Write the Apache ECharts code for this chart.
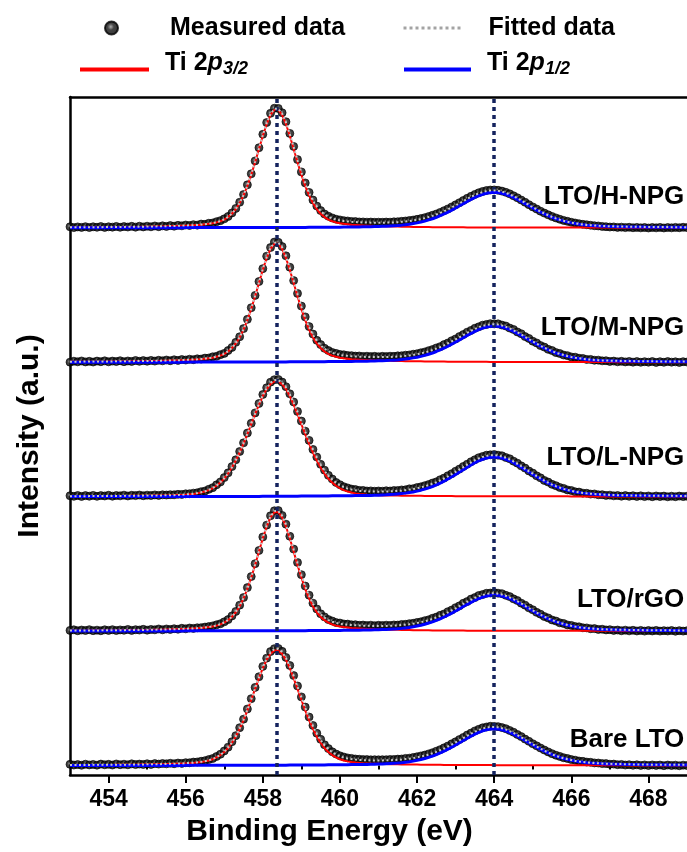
<!DOCTYPE html>
<html>
<head>
<meta charset="utf-8">
<title>Ti 2p XPS</title>
<script src="https://cdn.jsdelivr.net/npm/echarts@6/dist/echarts.min.js"></script>
<style>
  html, body { margin: 0; padding: 0; background: #ffffff; }
  #chart { width: 687px; height: 852px; }
</style>
</head>
<body>
<div id="chart"></div>
<script>
// Binding-energy sampling of every spectrum: 453.0 ... 469.0 eV, 0.1 eV apart
const E_START = 453.0;
const E_STEP = 0.1;

const samples = ['LTO/H-NPG', 'LTO/M-NPG', 'LTO/L-NPG', 'LTO/rGO', 'Bare LTO'];
// vertical stacking offset of each spectrum (intensity units)
const offsets = [453.6, 340.2, 226.8, 113.4, 0];
// height of the sample caption above its baseline (intensity units)
const labelLift = [26, 29, 33, 26, 22];
// Ti 2p3/2 and Ti 2p1/2 peak positions (eV)
const peakLines = [458.35, 464.0];
const majorTicks = [454, 456, 458, 460, 462, 464, 466, 468];
const minorTicks = [455, 457, 459, 461, 463, 465, 467];

// ---------- LTO/H-NPG ----------
const measH = [
  0.9,0.2,0.8,0.4,1.0,0.3,0.9,0.5,1.1,0.4,
  0.9,0.6,1.2,0.5,1.1,0.7,1.3,0.6,1.4,0.8,
  1.4,0.9,1.6,1.0,1.7,1.2,1.9,1.4,2.1,1.7,
  2.4,2.0,2.7,2.3,3.2,3.0,3.9,4.1,5.2,6.1,
  7.6,9.6,12.6,16.4,21.6,28.1,36.3,45.6,56.5,67.6,
  78.9,88.8,96.6,100.9,100.8,97.1,89.5,79.7,68.7,57.6,
  47.2,37.9,29.9,23.5,18.4,14.6,11.7,9.8,8.4,7.3,
  6.7,6.1,5.8,5.4,5.3,5.0,5.0,4.8,4.9,4.7,
  4.8,4.7,4.9,4.8,5.1,5.2,5.5,5.8,6.2,6.6,
  7.2,7.8,8.6,9.5,10.6,11.7,13.0,14.5,16.0,17.7,
  19.4,21.2,23.1,24.9,26.6,28.2,29.6,30.7,31.5,31.9,
  32.0,31.7,31.0,30.0,28.7,27.1,25.4,23.5,21.6,19.6,
  17.7,15.9,14.1,12.5,11.0,9.6,8.4,7.3,6.3,5.5,
  4.7,4.1,3.5,3.0,2.6,2.2,1.8,1.6,1.2,1.0,
  0.7,0.8,0.4,0.6,0.2,0.5,0.1,0.4,0.0,0.3,
  -0.1,0.3,0.0,0.4,-0.1,0.3,0.0,0.4,0.1,0.5,
  0.2
];
const fitH = [
  0.5,0.5,0.5,0.5,0.6,0.6,0.6,0.6,0.6,0.7,
  0.7,0.7,0.8,0.8,0.8,0.9,0.9,1.0,1.0,1.0,
  1.1,1.1,1.2,1.3,1.3,1.4,1.5,1.6,1.7,1.9,
  2.0,2.2,2.3,2.5,2.8,3.1,3.5,4.0,4.8,5.8,
  7.2,9.3,12.1,16.0,21.1,27.6,35.7,45.1,55.8,67.1,
  78.3,88.4,96.1,100.4,100.5,96.5,89.0,79.1,68.2,57.1,
  46.8,37.4,29.5,23.0,18.0,14.1,11.3,9.3,7.9,6.9,
  6.2,5.7,5.4,5.1,4.9,4.7,4.6,4.5,4.4,4.4,
  4.4,4.4,4.4,4.5,4.6,4.8,5.1,5.4,5.7,6.2,
  6.7,7.4,8.2,9.1,10.1,11.3,12.6,14.0,15.6,17.3,
  19.0,20.8,22.6,24.4,26.2,27.7,29.1,30.2,31.0,31.5,
  31.6,31.3,30.6,29.5,28.2,26.7,24.9,23.1,21.1,19.2,
  17.3,15.5,13.7,12.1,10.6,9.2,8.0,6.9,6.0,5.1,
  4.4,3.8,3.3,2.9,2.5,2.3,2.0,1.8,1.6,1.5,
  1.4,1.3,1.2,1.1,1.1,1.0,1.0,0.9,0.9,0.8,
  0.8,0.8,0.7,0.7,0.7,0.7,0.6,0.6,0.6,0.6,
  0.6
];
const p32H = [
  0.4,0.4,0.4,0.4,0.4,0.5,0.5,0.5,0.5,0.5,
  0.6,0.6,0.6,0.6,0.7,0.7,0.8,0.8,0.8,0.9,
  0.9,1.0,1.1,1.1,1.2,1.3,1.4,1.5,1.6,1.7,
  1.8,2.0,2.2,2.4,2.6,3.0,3.4,3.9,4.6,5.6,
  7.0,9.1,11.9,15.8,20.9,27.4,35.4,44.8,55.4,66.6,
  77.7,87.6,95.3,99.5,99.5,95.3,87.6,77.7,66.6,55.4,
  44.8,35.4,27.4,20.9,15.8,11.9,9.1,7.0,5.6,4.6,
  3.9,3.4,3.0,2.6,2.4,2.2,2.0,1.8,1.7,1.6,
  1.5,1.4,1.3,1.2,1.1,1.1,1.0,0.9,0.9,0.8,
  0.8,0.8,0.7,0.7,0.6,0.6,0.6,0.6,0.5,0.5,
  0.5,0.5,0.5,0.4,0.4,0.4,0.4,0.4,0.4,0.3,
  0.3,0.3,0.3,0.3,0.3,0.3,0.3,0.3,0.3,0.3,
  0.2,0.2,0.2,0.2,0.2,0.2,0.2,0.2,0.2,0.2,
  0.2,0.2,0.2,0.2,0.2,0.2,0.2,0.2,0.2,0.2,
  0.2,0.2,0.1,0.1,0.1,0.1,0.1,0.1,0.1,0.1,
  0.1,0.1,0.1,0.1,0.1,0.1,0.1,0.1,0.1,0.1,
  0.1
];
const p12H = [
  0.1,0.1,0.1,0.1,0.1,0.1,0.1,0.1,0.1,0.1,
  0.1,0.1,0.1,0.1,0.1,0.1,0.1,0.1,0.1,0.1,
  0.1,0.1,0.1,0.1,0.1,0.1,0.1,0.1,0.1,0.1,
  0.2,0.2,0.2,0.2,0.2,0.2,0.2,0.2,0.2,0.2,
  0.2,0.2,0.2,0.2,0.2,0.2,0.2,0.2,0.2,0.2,
  0.3,0.3,0.3,0.3,0.3,0.3,0.3,0.4,0.4,0.4,
  0.4,0.4,0.5,0.5,0.5,0.5,0.5,0.6,0.6,0.6,
  0.6,0.7,0.7,0.7,0.8,0.8,0.9,0.9,1.0,1.1,
  1.2,1.3,1.4,1.6,1.8,2.0,2.3,2.7,3.1,3.6,
  4.2,4.9,5.7,6.7,7.7,8.9,10.3,11.7,13.3,15.0,
  16.8,18.6,20.4,22.3,24.0,25.7,27.1,28.3,29.2,29.8,
  30.0,29.8,29.2,28.3,27.1,25.7,24.0,22.3,20.4,18.6,
  16.8,15.0,13.3,11.7,10.3,8.9,7.7,6.7,5.7,4.9,
  4.2,3.6,3.1,2.7,2.3,2.0,1.8,1.6,1.4,1.3,
  1.2,1.1,1.0,0.9,0.9,0.8,0.8,0.7,0.7,0.7,
  0.6,0.6,0.6,0.6,0.5,0.5,0.5,0.5,0.5,0.4,
  0.4
];

// ---------- LTO/M-NPG ----------
const measM = [
  0.1,0.9,0.4,1.1,0.3,0.8,0.2,1.0,0.5,1.2,
  0.4,1.0,0.6,1.3,0.5,1.1,0.7,1.5,0.8,1.4,
  0.9,1.6,1.0,1.7,1.2,1.9,1.3,2.1,1.6,2.3,
  1.9,2.6,2.2,2.9,2.7,3.5,3.6,4.6,5.0,6.4,
  7.5,9.9,12.5,16.8,21.5,28.4,36.2,46.0,56.4,68.1,
  79.0,89.5,96.8,101.4,101.2,97.6,89.8,80.2,68.9,58.1,
  47.4,38.3,30.1,23.8,18.5,14.9,11.8,9.9,8.3,7.5,
  6.6,6.3,5.7,5.6,5.2,5.3,4.9,5.1,4.8,5.0,
  4.7,5.0,4.8,5.1,5.0,5.4,5.5,6.0,6.2,6.8,
  7.2,8.0,8.7,9.8,10.7,12.1,13.2,14.9,16.3,18.2,
  19.7,21.7,23.4,25.4,26.9,28.7,29.9,31.3,31.9,32.6,
  32.4,32.4,31.4,30.6,28.9,27.7,25.6,24.1,21.7,20.1,
  17.8,16.3,14.1,12.8,10.9,9.9,8.2,7.4,6.1,5.6,
  4.5,4.3,3.4,3.2,2.4,2.4,1.7,1.8,1.2,1.3,
  0.7,1.0,0.4,0.8,0.3,0.7,0.1,0.6,0.0,0.5,
  0.1,0.6,-0.1,0.5,0.0,0.6,0.1,0.4,-0.1,0.5,
  0.2
];
const fitM = [
  0.5,0.5,0.5,0.5,0.6,0.6,0.6,0.6,0.6,0.7,
  0.7,0.7,0.8,0.8,0.8,0.9,0.9,1.0,1.0,1.0,
  1.1,1.1,1.2,1.3,1.3,1.4,1.5,1.6,1.7,1.9,
  2.0,2.2,2.3,2.5,2.8,3.1,3.5,4.0,4.8,5.8,
  7.2,9.3,12.2,16.1,21.2,27.7,35.9,45.3,56.1,67.4,
  78.7,88.8,96.6,100.9,101.0,97.0,89.4,79.5,68.5,57.4,
  47.0,37.6,29.6,23.1,18.1,14.2,11.4,9.3,7.9,6.9,
  6.2,5.7,5.4,5.1,4.9,4.7,4.6,4.5,4.4,4.4,
  4.4,4.4,4.4,4.5,4.6,4.8,5.1,5.4,5.8,6.2,
  6.8,7.5,8.3,9.2,10.3,11.5,12.8,14.2,15.9,17.6,
  19.3,21.1,23.0,24.8,26.6,28.1,29.6,30.7,31.5,32.0,
  32.1,31.8,31.1,30.0,28.6,27.1,25.3,23.5,21.4,19.5,
  17.6,15.8,13.9,12.3,10.8,9.4,8.1,7.0,6.1,5.2,
  4.5,3.9,3.4,2.9,2.5,2.3,2.0,1.8,1.6,1.5,
  1.4,1.3,1.2,1.1,1.1,1.0,1.0,0.9,0.9,0.8,
  0.8,0.8,0.7,0.7,0.7,0.7,0.6,0.6,0.6,0.6,
  0.6
];
const p32M = [
  0.4,0.4,0.4,0.4,0.4,0.5,0.5,0.5,0.5,0.5,
  0.6,0.6,0.6,0.6,0.7,0.7,0.8,0.8,0.8,0.9,
  0.9,1.0,1.1,1.1,1.2,1.3,1.4,1.5,1.6,1.7,
  1.8,2.0,2.2,2.4,2.6,3.0,3.4,3.9,4.6,5.6,
  7.0,9.1,12.0,15.9,21.0,27.5,35.6,45.1,55.7,66.9,
  78.1,88.1,95.7,100.0,100.0,95.7,88.1,78.1,66.9,55.7,
  45.1,35.6,27.5,21.0,15.9,12.0,9.1,7.0,5.6,4.6,
  3.9,3.4,3.0,2.6,2.4,2.2,2.0,1.8,1.7,1.6,
  1.5,1.4,1.3,1.2,1.1,1.1,1.0,0.9,0.9,0.8,
  0.8,0.8,0.7,0.7,0.6,0.6,0.6,0.6,0.5,0.5,
  0.5,0.5,0.5,0.4,0.4,0.4,0.4,0.4,0.4,0.3,
  0.3,0.3,0.3,0.3,0.3,0.3,0.3,0.3,0.3,0.3,
  0.2,0.2,0.2,0.2,0.2,0.2,0.2,0.2,0.2,0.2,
  0.2,0.2,0.2,0.2,0.2,0.2,0.2,0.2,0.2,0.2,
  0.2,0.2,0.1,0.1,0.1,0.1,0.1,0.1,0.1,0.1,
  0.1,0.1,0.1,0.1,0.1,0.1,0.1,0.1,0.1,0.1,
  0.1
];
const p12M = [
  0.1,0.1,0.1,0.1,0.1,0.1,0.1,0.1,0.1,0.1,
  0.1,0.1,0.1,0.1,0.1,0.1,0.1,0.1,0.1,0.1,
  0.1,0.1,0.1,0.1,0.1,0.1,0.1,0.1,0.1,0.1,
  0.2,0.2,0.2,0.2,0.2,0.2,0.2,0.2,0.2,0.2,
  0.2,0.2,0.2,0.2,0.2,0.2,0.2,0.2,0.2,0.2,
  0.3,0.3,0.3,0.3,0.3,0.3,0.3,0.4,0.4,0.4,
  0.4,0.4,0.5,0.5,0.5,0.5,0.5,0.6,0.6,0.6,
  0.6,0.7,0.7,0.7,0.8,0.8,0.9,0.9,1.0,1.1,
  1.2,1.3,1.4,1.6,1.8,2.0,2.3,2.7,3.2,3.7,
  4.3,5.0,5.8,6.8,7.8,9.1,10.5,11.9,13.5,15.3,
  17.1,18.9,20.7,22.7,24.4,26.1,27.6,28.8,29.7,30.3,
  30.5,30.3,29.7,28.8,27.6,26.1,24.4,22.7,20.7,18.9,
  17.1,15.3,13.5,11.9,10.5,9.1,7.8,6.8,5.8,5.0,
  4.3,3.7,3.2,2.7,2.3,2.0,1.8,1.6,1.4,1.3,
  1.2,1.1,1.0,0.9,0.9,0.8,0.8,0.7,0.7,0.7,
  0.6,0.6,0.6,0.6,0.5,0.5,0.5,0.5,0.5,0.4,
  0.4
];

// ---------- LTO/L-NPG ----------
const measL = [
  0.8,0.3,1.0,0.2,0.9,0.4,1.1,0.3,0.9,0.6,
  1.2,0.4,1.0,0.7,1.3,0.6,1.2,0.9,1.4,0.8,
  1.3,1.0,1.5,1.1,1.6,1.4,1.7,1.6,2.0,1.9,
  2.4,2.5,3.0,3.3,4.2,4.8,6.2,7.6,10.0,12.4,
  16.1,20.1,25.4,31.1,38.1,45.4,53.7,61.9,70.7,78.6,
  86.2,91.9,96.6,98.7,98.9,96.7,92.8,86.8,79.9,71.9,
  63.8,55.3,47.5,39.9,33.4,27.3,22.4,18.0,14.9,12.0,
  10.1,8.4,7.4,6.4,6.0,5.3,5.3,4.8,4.9,4.6,
  4.8,4.6,5.0,4.8,5.2,5.2,5.7,5.8,6.6,6.8,
  7.7,8.3,9.3,10.2,11.5,12.5,14.3,15.7,17.7,19.4,
  21.5,23.3,25.5,27.4,29.5,31.2,32.9,33.9,35.0,35.3,
  35.6,35.0,34.5,33.1,32.0,30.0,28.3,26.0,24.1,21.7,
  19.9,17.6,15.9,13.7,12.3,10.4,9.3,7.8,7.0,5.7,
  5.2,4.1,3.9,3.0,2.9,2.2,2.3,1.6,1.7,1.1,
  1.3,0.7,1.0,0.4,0.9,0.3,0.8,0.2,0.7,0.1,
  0.6,0.0,0.6,0.1,0.5,-0.1,0.4,0.0,0.5,0.1,
  0.4
];
const fitL = [
  0.4,0.4,0.4,0.4,0.4,0.5,0.5,0.5,0.5,0.5,
  0.6,0.6,0.6,0.6,0.7,0.7,0.8,0.8,0.8,0.9,
  0.9,0.9,1.0,1.0,1.1,1.2,1.2,1.3,1.5,1.6,
  1.9,2.2,2.5,3.0,3.7,4.5,5.7,7.3,9.4,12.1,
  15.5,19.7,24.8,30.7,37.5,45.0,53.1,61.5,70.1,78.3,
  85.6,91.6,96.0,98.3,98.4,96.3,92.2,86.4,79.3,71.5,
  63.2,54.9,46.9,39.5,32.8,26.9,21.8,17.6,14.3,11.6,
  9.5,8.0,6.8,6.0,5.4,4.9,4.7,4.4,4.3,4.3,
  4.2,4.3,4.4,4.5,4.6,4.9,5.1,5.5,6.0,6.4,
  7.1,7.9,8.7,9.8,10.9,12.1,13.7,15.3,17.1,19.0,
  20.9,22.9,24.9,27.0,28.9,30.8,32.3,33.5,34.4,35.0,
  35.0,34.7,33.9,32.8,31.4,29.7,27.7,25.7,23.5,21.4,
  19.4,17.3,15.4,13.5,11.8,10.2,8.9,7.7,6.6,5.7,
  4.9,4.2,3.7,3.2,2.8,2.5,2.2,2.0,1.8,1.7,
  1.5,1.4,1.3,1.2,1.2,1.1,1.1,1.0,1.0,1.0,
  0.8,0.8,0.8,0.8,0.7,0.7,0.7,0.7,0.6,0.6,
  0.6
];
const p32L = [
  0.3,0.3,0.3,0.3,0.3,0.4,0.4,0.4,0.4,0.4,
  0.5,0.5,0.5,0.5,0.6,0.6,0.7,0.7,0.7,0.8,
  0.8,0.8,0.9,0.9,1.0,1.1,1.1,1.2,1.4,1.5,
  1.7,2.0,2.3,2.8,3.5,4.3,5.5,7.1,9.2,11.9,
  15.3,19.5,24.6,30.5,37.3,44.8,52.8,61.2,69.7,77.7,
  84.9,90.8,95.0,97.2,97.2,95.0,90.8,84.9,77.7,69.7,
  61.2,52.8,44.8,37.3,30.5,24.6,19.5,15.3,11.9,9.2,
  7.1,5.5,4.3,3.5,2.8,2.3,2.0,1.7,1.5,1.4,
  1.2,1.1,1.1,1.0,0.9,0.9,0.8,0.8,0.8,0.7,
  0.7,0.7,0.6,0.6,0.6,0.5,0.5,0.5,0.5,0.5,
  0.4,0.4,0.4,0.4,0.4,0.4,0.4,0.4,0.4,0.4,
  0.3,0.3,0.3,0.3,0.3,0.3,0.3,0.3,0.3,0.3,
  0.3,0.3,0.3,0.3,0.3,0.3,0.3,0.3,0.3,0.3,
  0.2,0.2,0.2,0.2,0.2,0.2,0.2,0.2,0.2,0.2,
  0.2,0.2,0.2,0.2,0.2,0.2,0.2,0.2,0.2,0.2,
  0.1,0.1,0.1,0.1,0.1,0.1,0.1,0.1,0.1,0.1,
  0.1
];
const p12L = [
  0.1,0.1,0.1,0.1,0.1,0.1,0.1,0.1,0.1,0.1,
  0.1,0.1,0.1,0.1,0.1,0.1,0.1,0.1,0.1,0.1,
  0.1,0.1,0.1,0.1,0.1,0.1,0.1,0.1,0.1,0.1,
  0.2,0.2,0.2,0.2,0.2,0.2,0.2,0.2,0.2,0.2,
  0.2,0.2,0.2,0.2,0.2,0.2,0.2,0.2,0.2,0.2,
  0.3,0.3,0.3,0.3,0.3,0.4,0.4,0.4,0.4,0.4,
  0.5,0.5,0.5,0.5,0.6,0.6,0.6,0.6,0.7,0.7,
  0.7,0.8,0.8,0.8,0.9,0.9,1.0,1.0,1.1,1.2,
  1.3,1.5,1.6,1.8,2.0,2.3,2.6,3.0,3.5,4.0,
  4.7,5.5,6.4,7.5,8.6,9.9,11.5,13.1,14.9,16.8,
  18.8,20.8,22.8,24.9,26.8,28.7,30.3,31.6,32.6,33.3,
  33.5,33.3,32.6,31.6,30.3,28.7,26.8,24.9,22.8,20.8,
  18.8,16.8,14.9,13.1,11.5,9.9,8.6,7.5,6.4,5.5,
  4.7,4.0,3.5,3.0,2.6,2.3,2.0,1.8,1.6,1.5,
  1.3,1.2,1.1,1.0,1.0,0.9,0.9,0.8,0.8,0.8,
  0.7,0.7,0.7,0.7,0.6,0.6,0.6,0.6,0.5,0.5,
  0.5
];

// ---------- LTO/rGO ----------
const measR = [
  0.6,1.1,0.3,0.9,0.5,1.2,0.4,0.8,0.3,1.1,
  0.6,1.2,0.5,1.0,0.7,1.4,0.6,1.2,0.9,1.5,
  0.8,1.4,1.1,1.8,1.1,1.8,1.4,2.0,1.6,2.4,
  1.9,2.6,2.3,2.8,2.9,3.4,3.8,4.4,5.3,6.2,
  7.8,9.7,12.8,16.6,21.9,28.3,36.7,46.0,56.9,68.0,
  79.4,89.4,97.3,101.5,101.7,97.6,90.2,80.0,69.2,57.9,
  47.6,38.0,30.3,23.6,18.7,14.6,12.0,9.7,8.5,7.2,
  6.8,6.0,5.9,5.3,5.4,4.9,5.1,4.7,5.0,4.6,
  4.9,4.7,5.0,4.8,5.2,5.1,5.6,5.7,6.3,6.6,
  7.3,7.8,8.8,9.5,10.8,11.8,13.3,14.5,16.4,17.8,
  19.8,21.3,23.5,24.9,27.0,28.3,30.0,30.8,31.9,32.1,
  32.5,32.0,31.6,30.2,29.1,27.2,25.8,23.6,21.9,19.6,
  18.0,15.8,14.3,12.3,11.1,9.4,8.5,7.0,6.4,5.2,
  4.8,3.8,3.6,2.8,2.7,2.0,2.1,1.4,1.6,1.0,
  1.2,0.6,0.9,0.3,0.8,0.2,0.7,0.1,0.6,0.0,
  0.5,0.1,0.6,0.0,0.4,0.1,0.5,-0.1,0.4,0.0,
  0.3
];
const fitR = [
  0.5,0.5,0.5,0.5,0.6,0.6,0.6,0.6,0.6,0.7,
  0.7,0.7,0.8,0.8,0.8,0.9,0.9,1.0,1.0,1.0,
  1.1,1.1,1.2,1.3,1.3,1.4,1.5,1.6,1.7,1.9,
  2.0,2.2,2.3,2.5,2.8,3.1,3.5,4.0,4.8,5.8,
  7.3,9.4,12.2,16.1,21.3,27.8,36.0,45.5,56.2,67.6,
  78.9,89.1,96.8,101.2,101.3,97.2,89.7,79.7,68.7,57.5,
  47.1,37.7,29.7,23.1,18.1,14.2,11.4,9.3,7.9,6.9,
  6.2,5.7,5.4,5.1,4.9,4.7,4.6,4.5,4.4,4.4,
  4.4,4.4,4.4,4.5,4.6,4.8,5.1,5.4,5.7,6.2,
  6.8,7.5,8.3,9.2,10.3,11.4,12.7,14.2,15.8,17.5,
  19.2,21.0,22.9,24.7,26.4,28.0,29.4,30.5,31.3,31.8,
  31.9,31.6,30.9,29.8,28.5,26.9,25.2,23.3,21.4,19.4,
  17.5,15.7,13.9,12.2,10.7,9.3,8.1,7.0,6.0,5.2,
  4.4,3.8,3.3,2.9,2.5,2.3,2.0,1.8,1.6,1.5,
  1.4,1.3,1.2,1.1,1.1,1.0,1.0,0.9,0.9,0.8,
  0.8,0.8,0.7,0.7,0.7,0.7,0.6,0.6,0.6,0.6,
  0.6
];
const p32R = [
  0.4,0.4,0.4,0.4,0.4,0.5,0.5,0.5,0.5,0.5,
  0.6,0.6,0.6,0.6,0.7,0.7,0.8,0.8,0.8,0.9,
  0.9,1.0,1.1,1.1,1.2,1.3,1.4,1.5,1.6,1.7,
  1.8,2.0,2.2,2.4,2.6,3.0,3.4,3.9,4.6,5.6,
  7.1,9.2,12.0,15.9,21.0,27.6,35.7,45.2,55.8,67.1,
  78.3,88.3,96.0,100.3,100.3,96.0,88.3,78.3,67.1,55.8,
  45.2,35.7,27.6,21.0,15.9,12.0,9.2,7.1,5.6,4.6,
  3.9,3.4,3.0,2.6,2.4,2.2,2.0,1.8,1.7,1.6,
  1.5,1.4,1.3,1.2,1.1,1.1,1.0,0.9,0.9,0.8,
  0.8,0.8,0.7,0.7,0.6,0.6,0.6,0.6,0.5,0.5,
  0.5,0.5,0.5,0.4,0.4,0.4,0.4,0.4,0.4,0.3,
  0.3,0.3,0.3,0.3,0.3,0.3,0.3,0.3,0.3,0.3,
  0.2,0.2,0.2,0.2,0.2,0.2,0.2,0.2,0.2,0.2,
  0.2,0.2,0.2,0.2,0.2,0.2,0.2,0.2,0.2,0.2,
  0.2,0.2,0.1,0.1,0.1,0.1,0.1,0.1,0.1,0.1,
  0.1,0.1,0.1,0.1,0.1,0.1,0.1,0.1,0.1,0.1,
  0.1
];
const p12R = [
  0.1,0.1,0.1,0.1,0.1,0.1,0.1,0.1,0.1,0.1,
  0.1,0.1,0.1,0.1,0.1,0.1,0.1,0.1,0.1,0.1,
  0.1,0.1,0.1,0.1,0.1,0.1,0.1,0.1,0.1,0.1,
  0.2,0.2,0.2,0.2,0.2,0.2,0.2,0.2,0.2,0.2,
  0.2,0.2,0.2,0.2,0.2,0.2,0.2,0.2,0.2,0.2,
  0.3,0.3,0.3,0.3,0.3,0.3,0.3,0.4,0.4,0.4,
  0.4,0.4,0.5,0.5,0.5,0.5,0.5,0.6,0.6,0.6,
  0.6,0.7,0.7,0.7,0.8,0.8,0.9,0.9,1.0,1.1,
  1.2,1.3,1.4,1.6,1.8,2.0,2.3,2.7,3.1,3.6,
  4.3,5.0,5.8,6.8,7.8,9.0,10.4,11.9,13.5,15.2,
  17.0,18.8,20.7,22.6,24.3,26.0,27.5,28.7,29.6,30.2,
  30.4,30.2,29.6,28.7,27.5,26.0,24.3,22.6,20.7,18.8,
  17.0,15.2,13.5,11.9,10.4,9.0,7.8,6.8,5.8,5.0,
  4.3,3.6,3.1,2.7,2.3,2.0,1.8,1.6,1.4,1.3,
  1.2,1.1,1.0,0.9,0.9,0.8,0.8,0.7,0.7,0.7,
  0.6,0.6,0.6,0.6,0.5,0.5,0.5,0.5,0.5,0.4,
  0.4
];

// ---------- Bare LTO ----------
const measB = [
  1.0,0.4,0.8,0.2,1.1,0.5,0.9,0.3,1.2,0.6,
  1.0,0.4,1.3,0.7,1.1,0.6,1.4,0.8,1.2,0.9,
  1.5,0.9,1.6,1.2,1.7,1.4,1.9,1.5,2.1,1.8,
  2.4,2.3,2.9,3.0,3.6,4.1,5.0,5.9,7.6,9.5,
  12.3,15.5,20.1,25.2,31.9,39.1,47.7,56.4,65.9,74.9,
  83.6,90.6,96.1,98.6,98.8,96.3,91.2,84.4,75.9,67.1,
  57.9,49.3,40.9,33.8,27.2,22.1,17.5,14.3,11.6,9.7,
  8.2,7.2,6.4,6.0,5.5,5.3,5.0,5.0,4.8,4.9,
  4.8,4.9,4.9,5.1,5.1,5.4,5.5,6.0,6.2,6.8,
  7.4,8.1,8.8,9.8,10.8,12.1,13.4,14.9,16.5,18.3,
  20.0,21.9,23.7,25.7,27.4,29.2,30.5,31.8,32.5,33.1,
  33.0,32.8,32.0,31.1,29.6,28.1,26.2,24.4,22.3,20.4,
  18.4,16.6,14.8,13.1,11.5,10.0,8.7,7.7,6.6,5.9,
  5.0,4.5,3.8,3.5,2.9,2.7,2.2,2.1,1.6,1.6,
  1.1,1.2,0.7,0.9,0.4,0.7,0.2,0.6,0.1,0.5,
  0.0,0.5,0.1,0.4,-0.1,0.4,0.0,0.3,-0.2,0.3,
  0.0
];
const fitB = [
  0.5,0.5,0.5,0.5,0.5,0.5,0.6,0.6,0.6,0.6,
  0.6,0.6,0.7,0.7,0.7,0.8,0.8,0.8,0.9,0.9,
  1.0,1.0,1.1,1.1,1.2,1.3,1.4,1.5,1.6,1.7,
  2.0,2.1,2.4,2.7,3.1,3.7,4.4,5.5,7.0,9.0,
  11.6,15.0,19.4,24.7,31.1,38.5,46.9,55.8,65.1,74.3,
  82.9,90.1,95.4,98.2,98.3,95.7,90.7,83.7,75.4,66.4,
  57.4,48.6,40.4,33.1,26.7,21.4,17.0,13.7,11.1,9.1,
  7.7,6.6,5.9,5.4,5.0,4.7,4.5,4.4,4.3,4.3,
  4.3,4.3,4.4,4.5,4.6,4.8,5.0,5.4,5.7,6.2,
  6.9,7.5,8.3,9.2,10.3,11.5,12.9,14.3,16.0,17.7,
  19.5,21.3,23.2,25.1,26.9,28.6,30.0,31.2,32.0,32.5,
  32.5,32.2,31.5,30.5,29.1,27.5,25.7,23.8,21.8,19.8,
  17.9,16.0,14.3,12.5,11.0,9.4,8.2,7.1,6.1,5.3,
  4.6,3.9,3.4,3.0,2.6,2.3,2.1,1.9,1.7,1.5,
  1.4,1.3,1.2,1.2,1.1,1.0,0.9,0.9,0.8,0.8,
  0.8,0.7,0.7,0.7,0.7,0.6,0.6,0.6,0.6,0.6,
  0.5
];
const p32B = [
  0.4,0.4,0.4,0.4,0.4,0.4,0.5,0.5,0.5,0.5,
  0.5,0.5,0.6,0.6,0.6,0.7,0.7,0.7,0.8,0.8,
  0.9,0.9,1.0,1.0,1.1,1.2,1.3,1.4,1.5,1.6,
  1.8,1.9,2.2,2.5,2.9,3.5,4.2,5.3,6.8,8.8,
  11.4,14.8,19.2,24.5,30.9,38.3,46.6,55.5,64.7,73.8,
  82.2,89.3,94.4,97.1,97.1,94.4,89.3,82.2,73.8,64.7,
  55.5,46.6,38.3,30.9,24.5,19.2,14.8,11.4,8.8,6.8,
  5.3,4.2,3.5,2.9,2.5,2.2,1.9,1.8,1.6,1.5,
  1.4,1.3,1.2,1.1,1.0,1.0,0.9,0.9,0.8,0.8,
  0.8,0.7,0.7,0.6,0.6,0.6,0.6,0.5,0.5,0.5,
  0.5,0.4,0.4,0.4,0.4,0.4,0.4,0.4,0.4,0.4,
  0.3,0.3,0.3,0.3,0.3,0.3,0.3,0.3,0.3,0.3,
  0.3,0.3,0.3,0.3,0.3,0.2,0.2,0.2,0.2,0.2,
  0.2,0.2,0.2,0.2,0.2,0.2,0.2,0.2,0.2,0.2,
  0.2,0.2,0.2,0.2,0.2,0.1,0.1,0.1,0.1,0.1,
  0.1,0.1,0.1,0.1,0.1,0.1,0.1,0.1,0.1,0.1,
  0.1
];
const p12B = [
  0.1,0.1,0.1,0.1,0.1,0.1,0.1,0.1,0.1,0.1,
  0.1,0.1,0.1,0.1,0.1,0.1,0.1,0.1,0.1,0.1,
  0.1,0.1,0.1,0.1,0.1,0.1,0.1,0.1,0.1,0.1,
  0.2,0.2,0.2,0.2,0.2,0.2,0.2,0.2,0.2,0.2,
  0.2,0.2,0.2,0.2,0.2,0.2,0.2,0.2,0.2,0.2,
  0.3,0.3,0.3,0.3,0.3,0.3,0.3,0.4,0.4,0.4,
  0.4,0.4,0.5,0.5,0.5,0.5,0.5,0.6,0.6,0.6,
  0.7,0.7,0.7,0.8,0.8,0.8,0.9,0.9,1.0,1.1,
  1.2,1.3,1.5,1.7,1.9,2.1,2.4,2.8,3.2,3.7,
  4.4,5.1,5.9,6.9,8.0,9.2,10.6,12.1,13.8,15.5,
  17.3,19.2,21.1,23.0,24.8,26.5,28.0,29.3,30.2,30.8,
  31.0,30.8,30.2,29.3,28.0,26.5,24.8,23.0,21.1,19.2,
  17.3,15.5,13.8,12.1,10.6,9.2,8.0,6.9,5.9,5.1,
  4.4,3.7,3.2,2.8,2.4,2.1,1.9,1.7,1.5,1.3,
  1.2,1.1,1.0,1.0,0.9,0.8,0.8,0.8,0.7,0.7,
  0.7,0.6,0.6,0.6,0.6,0.5,0.5,0.5,0.5,0.5,
  0.4
];

const spectra = [
  { meas: measH, fit: fitH, p32: p32H, p12: p12H },
  { meas: measM, fit: fitM, p32: p32M, p12: p12M },
  { meas: measL, fit: fitL, p32: p32L, p12: p12L },
  { meas: measR, fit: fitR, p32: p32R, p12: p12R },
  { meas: measB, fit: fitB, p32: p32B, p12: p12B }
];

const FONT = '"Liberation Sans", Arial, Helvetica, sans-serif';
const INK = '#000000';

// pair every intensity with its binding energy and lift it by the stack offset
function toXY(values, off) {
  return values.map((v, i) => [+(E_START + i * E_STEP).toFixed(1), +(v + off).toFixed(2)]);
}

// dark bead used for the measured points
const bead = {
  type: 'radial', x: 0.45, y: 0.42, r: 0.6,
  colorStops: [
    { offset: 0, color: '#9c9c9c' },
    { offset: 0.35, color: '#161616' },
    { offset: 1, color: '#000000' }
  ]
};

const series = [];
spectra.forEach((s, k) => {
  const off = offsets[k];
  series.push({
    name: 'Measured data', type: 'scatter', data: toXY(s.meas, off),
    symbol: 'circle', symbolSize: 8,
    itemStyle: { color: bead, borderColor: '#000', borderWidth: 0.8 },
    z: 2, silent: true
  });
  series.push({
    name: 'Ti 2p3/2', type: 'line', data: toXY(s.p32, off),
    symbol: 'none', showSymbol: false,
    lineStyle: { color: '#ff0000', width: 2 }, itemStyle: { color: '#ff0000' },
    z: 3, silent: true
  });
  series.push({
    name: 'Ti 2p1/2', type: 'line', data: toXY(s.p12, off),
    symbol: 'none', showSymbol: false,
    lineStyle: { color: '#0000ff', width: 3 }, itemStyle: { color: '#0000ff' },
    z: 4, silent: true
  });
  const fitSeries = {
    name: 'Fitted data', type: 'line', data: toXY(s.fit, off),
    symbol: 'none', showSymbol: false,
    lineStyle: { color: '#c8c8c8', width: 2, type: [2, 2.5] }, itemStyle: { color: '#c8c8c8' },
    z: 5, silent: true,
    markPoint: {
      silent: true, symbol: 'circle', symbolSize: 0, animation: false,
      label: {
        show: true, position: 'left', distance: 0, formatter: samples[k],
        color: INK, fontSize: 26, fontWeight: 'bold', fontFamily: FONT
      },
      data: [{ coord: [468.93, off + labelLift[k]] }]
    }
  };
  if (k === spectra.length - 1) {
    // dotted guides through the two spin-orbit components
    fitSeries.markLine = {
      silent: true, symbol: 'none', animation: false,
      label: { show: false },
      lineStyle: { color: '#14235e', width: 3.5, type: [4, 4], cap: 'butt' },
      data: peakLines.map(x => ({ xAxis: x }))
    };
  }
  series.push(fitSeries);
});

const legendText = { fontSize: 25, fontWeight: 'bold', fontFamily: FONT, color: INK, lineHeight: 30 };
const subRich = {
  t: { fontSize: 25, fontWeight: 'bold', fontFamily: FONT, color: INK, lineHeight: 30 },
  i: { fontSize: 25, fontWeight: 'bold', fontStyle: 'italic', fontFamily: FONT, color: INK, lineHeight: 30 },
  s: { fontSize: 18, fontWeight: 'bold', fontStyle: 'italic', fontFamily: FONT, color: INK,
       lineHeight: 18, padding: [24, 0, 0, 0], verticalAlign: 'bottom' }
};
function tiLabel(name) {
  return name === 'Ti 2p3/2' ? '{t|Ti 2}{i|p}{s|3/2}' : '{t|Ti 2}{i|p}{s|1/2}';
}
// legend lines only, no point marker on them
const lineOnly = { opacity: 0 };

const option = {
  animation: false,
  backgroundColor: '#ffffff',
  textStyle: { fontFamily: FONT },
  legend: [
    {
      data: [{ name: 'Measured data', icon: 'circle' }],
      left: 99, top: 8, itemWidth: 13, itemHeight: 13, selectedMode: false,
      textStyle: Object.assign({ padding: [0, 0, 0, 47] }, legendText)
    },
    {
      data: [{ name: 'Fitted data', itemStyle: lineOnly }],
      left: 397, top: 8, itemWidth: 59, itemHeight: 14, selectedMode: false,
      lineStyle: { width: 3, color: '#a3a3a3', type: [3, 3] },
      textStyle: Object.assign({ padding: [0, 0, 0, 21] }, legendText)
    },
    {
      data: [{ name: 'Ti 2p3/2', itemStyle: lineOnly }],
      left: 73, top: 31, itemWidth: 69, itemHeight: 14, selectedMode: false,
      lineStyle: { width: 4 },
      formatter: tiLabel,
      textStyle: { padding: [0, 0, 13, 11], rich: subRich }
    },
    {
      data: [{ name: 'Ti 2p1/2', itemStyle: lineOnly }],
      left: 397, top: 31, itemWidth: 67, itemHeight: 14, selectedMode: false,
      lineStyle: { width: 4 },
      formatter: tiLabel,
      textStyle: { padding: [0, 0, 13, 11], rich: subRich }
    }
  ],
  grid: { left: 70, right: -5, top: 97, bottom: 69, containLabel: false },
  xAxis: [
    {
      type: 'value', min: 453, max: 469, position: 'bottom',
      axisLine: { show: true, onZero: false, lineStyle: { color: INK, width: 2.5 } },
      axisTick: { show: true, inside: false, length: 8, customValues: majorTicks,
                  lineStyle: { color: INK, width: 2 } },
      axisLabel: { show: true, customValues: majorTicks, margin: 13, color: INK,
                   fontSize: 23, fontWeight: 'bold', fontFamily: FONT },
      splitLine: { show: false },
      name: 'Binding Energy (eV)', nameLocation: 'middle', nameGap: 42,
      nameTextStyle: { fontSize: 30, fontWeight: 'bold', color: INK, fontFamily: FONT,
                       padding: [0, 98, 0, 0] }
    },
    {
      type: 'value', min: 453, max: 469, position: 'bottom',
      axisLine: { show: false },
      axisTick: { show: true, inside: false, length: 4, customValues: minorTicks,
                  lineStyle: { color: INK, width: 2 } },
      axisLabel: { show: false },
      splitLine: { show: false }
    },
    {
      type: 'value', min: 453, max: 469, position: 'top',
      axisLine: { show: true, onZero: false, lineStyle: { color: INK, width: 2.5 } },
      axisTick: { show: false }, axisLabel: { show: false }, splitLine: { show: false }
    }
  ],
  yAxis: {
    type: 'value', min: -8, max: 564,
    axisLine: { show: true, onZero: false, lineStyle: { color: INK, width: 2.5 } },
    axisTick: { show: false }, axisLabel: { show: false }, splitLine: { show: false },
    name: 'Intensity (a.u.)', nameLocation: 'middle', nameGap: 25, nameRotate: 90,
    nameTextStyle: { fontSize: 30, fontWeight: 'bold', color: INK, fontFamily: FONT }
  },
  series: series
};

const chart = echarts.init(document.getElementById('chart'), null, { renderer: 'canvas' });
chart.setOption(option);
</script>
</body>
</html>
